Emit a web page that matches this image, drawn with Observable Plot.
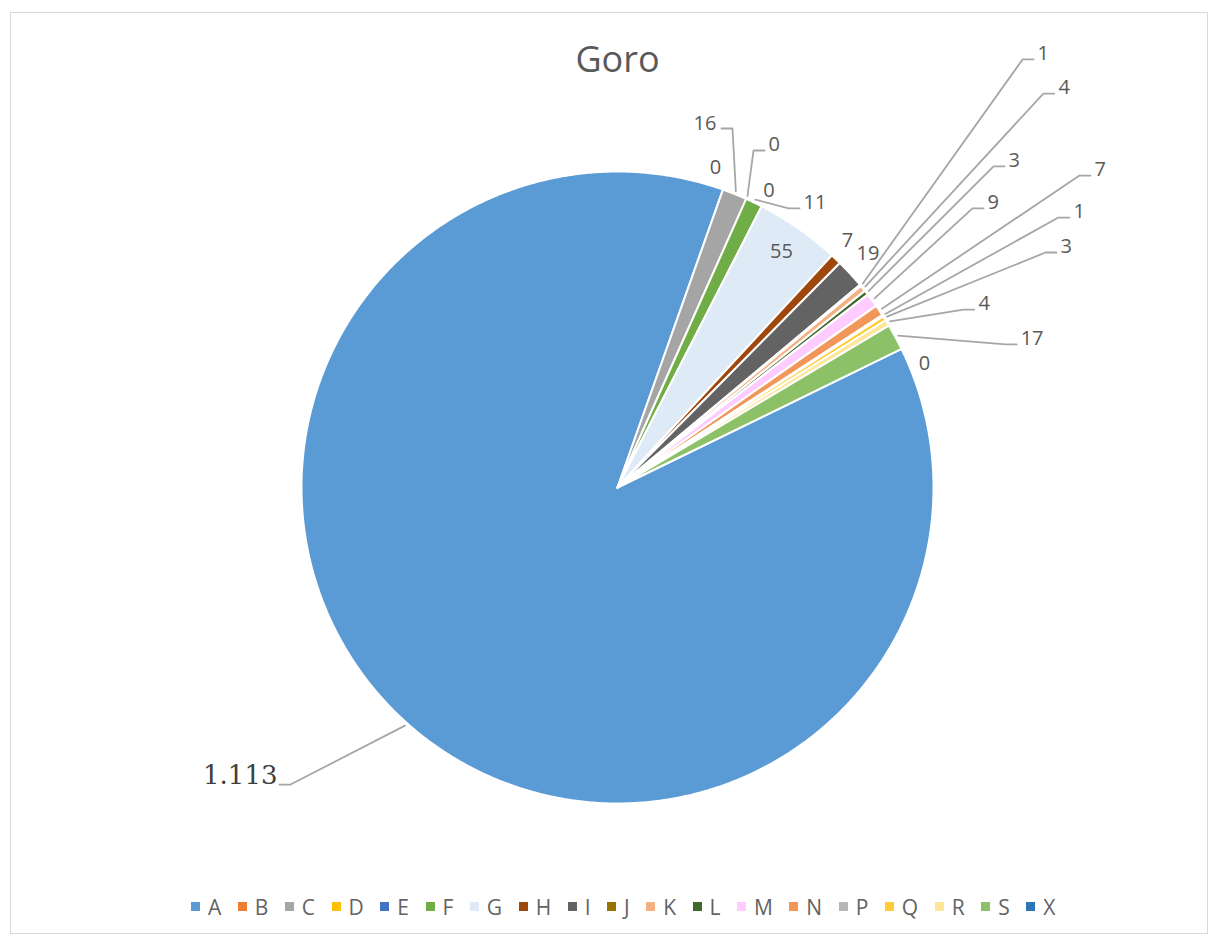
<!DOCTYPE html>
<html>
<head>
<meta charset="utf-8">
<script src="https://cdn.jsdelivr.net/npm/d3@7"></script>
<script src="https://cdn.jsdelivr.net/npm/@observablehq/plot@0.6"></script>
<style>
  html, body { margin: 0; padding: 0; background: #fff; width: 1215px; height: 937px; overflow: hidden; }
  #frame { position: absolute; left: 10px; top: 12px; width: 1198px; height: 922px; border: 1px solid #d9d9d9; box-sizing: border-box; }
  #chart { position: absolute; left: 0; top: 0; }
  #title { position: absolute; left: 0; width: 1235px; top: 41px; text-align: center; font-family: "Open Sans", sans-serif; font-size: 36px; line-height: 36px; color: #595959; }
  #legend { position: absolute; left: 191px; top: 890px; width: 1000px; }
  .lg-swatches { font-family: "Open Sans", sans-serif; font-size: 21px; color: #636363; margin: 0; }
  .lg-swatches-wrap { justify-content: flex-start; min-height: 33px; }
  .lg-swatches-wrap .lg-swatch { margin-right: 16.5px; }
  .lg-swatch > svg { margin-right: 8px; }
</style>
</head>
<body>
<div id="frame"></div>
<div id="chart"></div>
<div id="title">Goro</div>
<div id="legend"></div>
<script>
// ---- data ----
const categories = ["A","B","C","D","E","F","G","H","I","J","K","L","M","N","P","Q","R","S","X"];
const values     = [1113, 0, 16, 0, 0, 11, 55, 7, 19, 1, 4, 3, 9, 7, 1, 3, 4, 17, 0];
const colors     = ["#5B9BD5","#ED7D31","#A5A5A5","#FFC000","#4472C4","#70AD47","#DEEBF7","#9E480E",
                    "#636363","#997300","#F4B183","#43682B","#FFCCFF","#F1975A","#B7B7B7","#FFCD33",
                    "#FFE699","#8CC168","#2E75B6"];

// ---- layout (not data) ----
const W = 1215, H = 880;           // svg size
const CX = 617, CY = 487, R = 316; // pie centre and radius in px
const firstSliceAngle = 64;        // degrees, clockwise from 12 o'clock
// label placement: [angle deg, distance in pie radii, kind]
// plain: text centre; right/left/big: leader elbow, text beside it
const labelLayout = {
  A: [227.75, 1.398, "big"],
  B: [17.03, 1.059, "plain"],
  C: [17.76, 1.193, "left"],
  D: [21.98, 1.150, "right"],
  E: [27.02, 1.055, "plain"],
  F: [31.5, 1.036, "right"],
  G: [34.8, 0.909, "plain"],
  H: [42.96, 1.068, "plain"],
  I: [46.95, 1.085, "plain"],
  J: [43.42, 1.865, "right"],
  K: [47.23, 1.836, "right"],
  L: [49.5, 1.565, "right"],
  M: [51.83, 1.429, "right"],
  N: [55.97, 1.764, "right"],
  P: [58.52, 1.636, "right"],
  Q: [61.23, 1.545, "right"],
  R: [62.78, 1.231, "right"],
  S: [69.77, 1.309, "right"],
  X: [68.08, 1.047, "plain"]
};

const fmt = d3.formatLocale({decimal: ",", thousands: ".", grouping: [3], currency: ["", ""]}).format(",");
const rad = Math.PI / 180;
const polar = (a, r) => ({x: r * Math.sin(a), y: r * Math.cos(a)});

const rows = categories.map((c, i) => ({cat: c, value: values[i], color: colors[i]}));
const pie = d3.pie().value(d => d.value).sort(null)
  .startAngle(firstSliceAngle * rad).endAngle(firstSliceAngle * rad + 2 * Math.PI);
const arcs = pie(rows);

// slice polygons
const slicePts = [];
for (const a of arcs) {
  if (a.data.value <= 0) continue;
  const n = Math.max(2, Math.ceil((a.endAngle - a.startAngle) / (0.4 * rad)));
  slicePts.push({cat: a.data.cat, x: 0, y: 0});
  for (let k = 0; k <= n; k++) {
    const t = a.startAngle + (a.endAngle - a.startAngle) * k / n;
    slicePts.push({cat: a.data.cat, ...polar(t, 1)});
  }
  slicePts.push({cat: a.data.cat, x: 0, y: 0});
}

// labels and leaders
const leaderPts = [], plainLbl = [], rightLbl = [], leftLbl = [], bigLbl = [];
for (const a of arcs) {
  const c = a.data.cat;
  const [ang, dist, kind] = labelLayout[c];
  const p = polar(ang * rad, dist);
  const row = {cat: c, text: fmt(a.data.value), x: p.x, y: p.y};
  if (kind === "plain") { plainLbl.push(row); continue; }
  const mid = (a.startAngle + a.endAngle) / 2;
  const s = polar(mid, 1.01);
  const dir = kind === "right" ? 1 : -1;
  leaderPts.push({cat: c, x: s.x, y: s.y});
  leaderPts.push({cat: c, x: p.x, y: p.y});
  leaderPts.push({cat: c, x: p.x + dir * 11 / R, y: p.y});
  (kind === "right" ? rightLbl : kind === "left" ? leftLbl : bigLbl).push(row);
}

const labelFont = {fontFamily: "Open Sans", fontSize: 20, fill: "#595959"};

const chart = Plot.plot({
  width: W, height: H, margin: 0,
  style: {background: "transparent", overflow: "visible"},
  x: {domain: [-CX / R, (W - CX) / R], range: [0, W], axis: null},
  y: {domain: [(CY - H) / R, CY / R], range: [H, 0], axis: null},
  color: {domain: categories, range: colors},
  marks: [
    Plot.line(slicePts, {x: "x", y: "y", z: "cat", fill: "cat", stroke: "white", strokeWidth: 2, strokeLinejoin: "round", curve: "linear"}),
    Plot.line(leaderPts, {x: "x", y: "y", z: "cat", stroke: "#a6a6a6", strokeWidth: 1.8, curve: "linear"}),
    Plot.text(plainLbl, {x: "x", y: "y", text: "text", ...labelFont}),
    Plot.text(rightLbl, {x: "x", y: "y", text: "text", textAnchor: "start", dx: 15, dy: -6, ...labelFont}),
    Plot.text(leftLbl, {x: "x", y: "y", text: "text", textAnchor: "end", dx: -16, dy: -5, ...labelFont}),
    Plot.text(bigLbl, {x: "x", y: "y", text: "text", textAnchor: "end", dx: -13, dy: -9, fontFamily: "DejaVu Serif", fontSize: 26, fill: "#404040"})
  ]
});
document.getElementById("chart").appendChild(chart);

const legend = chart.legend("color", {legend: "swatches", swatchSize: 9, className: "lg"});
document.getElementById("legend").appendChild(legend);
</script>
</body>
</html>
